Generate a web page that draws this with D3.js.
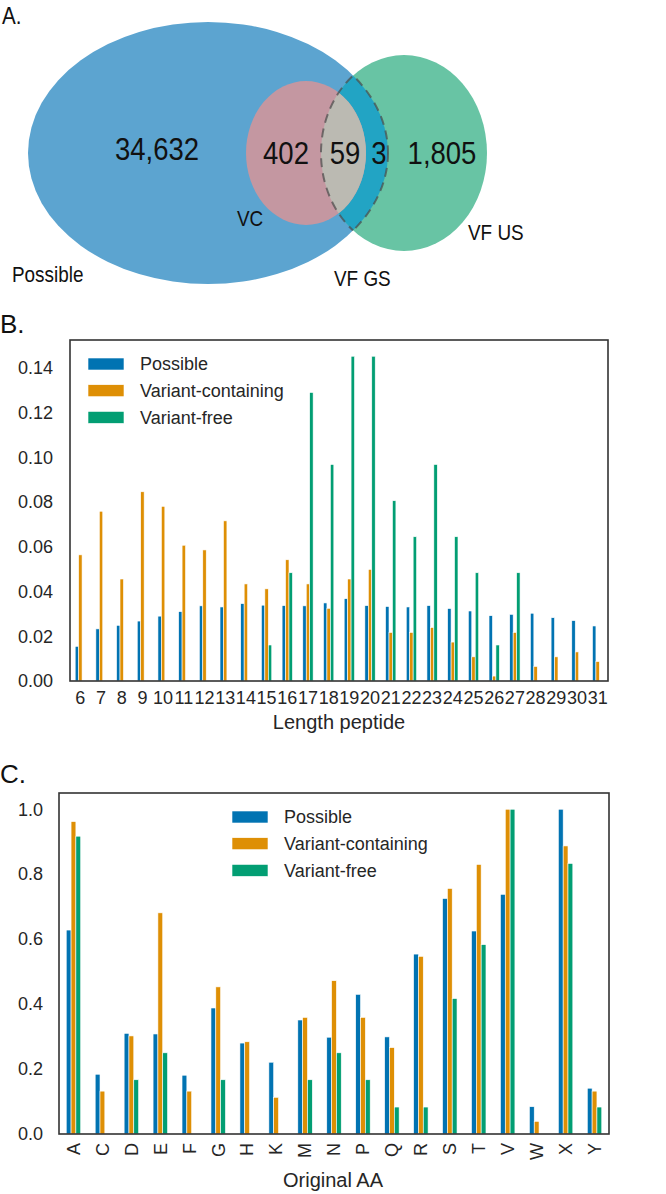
<!DOCTYPE html>
<html><head><meta charset="utf-8">
<script src="https://cdn.jsdelivr.net/npm/d3@7"></script>
<style>
html,body{margin:0;padding:0;background:#fff;}
svg{display:block;font-family:"Liberation Sans",Arial,sans-serif;}
</style></head>
<body>
<svg id="c" width="666" height="1194"></svg>
<script>
// ---------- DATA ----------
const vennSetLabels = ["Possible", "VC", "VF GS", "VF US"];
const vennCounts = [34632, 402, 59, 3, 1805];

const seriesNames = ["Possible", "Variant-containing", "Variant-free"];

const lengthCats = ["6","7","8","9","10","11","12","13","14","15","16","17","18","19","20","21","22","23","24","25","26","27","28","29","30","31"];
const possibleLen = [0.0155,0.0233,0.0249,0.0268,0.0290,0.0310,0.0336,0.0331,0.0346,0.0339,0.0337,0.0336,0.0349,0.0368,0.0337,0.0333,0.0331,0.0337,0.0324,0.0313,0.0292,0.0298,0.0303,0.0283,0.0270,0.0246];
const vcLen = [0.0564,0.0759,0.0456,0.0846,0.0781,0.0607,0.0586,0.0716,0.0434,0.0412,0.0542,0.0434,0.0325,0.0456,0.0499,0.0217,0.0217,0.0239,0.0174,0.0108,0.0022,0.0217,0.0065,0.0108,0.0130,0.0087];
const vfLen = [0,0,0,0,0,0,0,0,0,0.0161,0.0484,0.1290,0.0968,0.1452,0.1452,0.0806,0.0645,0.0968,0.0645,0.0484,0.0161,0.0484,0,0,0,0];
const lenTicks = [0,0.02,0.04,0.06,0.08,0.10,0.12,0.14];

const aaCats = ["A","C","D","E","F","G","H","K","M","N","P","Q","R","S","T","V","W","X","Y"];
const possibleAA = [0.628,0.184,0.310,0.308,0.181,0.388,0.280,0.221,0.351,0.298,0.430,0.299,0.554,0.725,0.625,0.738,0.084,1.0,0.141];
const vcAA = [0.962,0.132,0.302,0.681,0.132,0.453,0.284,0.113,0.359,0.472,0.359,0.266,0.547,0.756,0.830,1.0,0.039,0.887,0.132];
const vfAA = [0.917,0,0.167,0.250,0,0.167,0,0,0.167,0.250,0.167,0.083,0.083,0.417,0.583,1.0,0,0.833,0.083];
const aaTicks = [0,0.2,0.4,0.6,0.8,1.0];

// ---------- STYLE ----------
const barColors = ["#0173B2","#DE8F05","#029E73"];
const svg = d3.select("#c");
const fmtCount = d3.format(",");

// ---------- PANEL A: VENN ----------
(function(){
  const gA = svg.append("g");
  const shapes = {
    possible:{cx:208, cy:153, rx:180, ry:131},
    vfus:{cx:404, cy:153, rx:83, ry:98},
    vc:{cx:306, cy:153, rx:60, ry:72}
  };
  const defs = svg.append("defs");
  defs.append("clipPath").attr("id","clipBlue").append("ellipse").attr("cx",shapes.possible.cx).attr("cy",shapes.possible.cy).attr("rx",shapes.possible.rx).attr("ry",shapes.possible.ry);
  defs.append("clipPath").attr("id","clipGreen").append("ellipse").attr("cx",shapes.vfus.cx).attr("cy",shapes.vfus.cy).attr("rx",shapes.vfus.rx).attr("ry",shapes.vfus.ry);
  const ell = (s) => gA.append("ellipse").attr("cx",s.cx).attr("cy",s.cy).attr("rx",s.rx).attr("ry",s.ry);
  ell(shapes.possible).attr("fill","#5CA4D0");
  ell(shapes.vfus).attr("fill","#68C4A4");
  ell(shapes.vfus).attr("fill","#22A4C4").attr("clip-path","url(#clipBlue)");
  ell(shapes.vc).attr("fill","#C497A1");
  ell(shapes.vc).attr("fill","#BBBAB2").attr("clip-path","url(#clipGreen)");
  // dashed lens outline (VF GS)
  ell(shapes.vfus).attr("fill","none").attr("stroke","#4a4a4a").attr("stroke-opacity",0.7).attr("stroke-width",2).attr("stroke-dasharray","9,6").attr("clip-path","url(#clipBlue)");
  ell(shapes.possible).attr("fill","none").attr("stroke","#4a4a4a").attr("stroke-opacity",0.7).attr("stroke-width",2).attr("stroke-dasharray","9,6").attr("clip-path","url(#clipGreen)");

  const sx = 0.86;
  const txt = (x,y,t,size,anchor) => gA.append("text")
    .attr("transform",`translate(${x},${y}) scale(${sx},1)`)
    .attr("text-anchor",anchor||"middle").attr("font-size",size).attr("fill","#111").text(t);
  // counts
  txt(157,160,fmtCount(vennCounts[0]),32);
  txt(286,164,fmtCount(vennCounts[1]),32);
  txt(345,164,fmtCount(vennCounts[2]),32);
  txt(379,164,fmtCount(vennCounts[3]),32);
  txt(442,164,fmtCount(vennCounts[4]),32);
  // set labels
  txt(12,282,vennSetLabels[0],22,"start");
  txt(237,226,vennSetLabels[1],22,"start");
  txt(334,286,vennSetLabels[2],22,"start");
  txt(468,240,vennSetLabels[3],22,"start");
  txt(2,24,"A.",24,"start");
})();

// ---------- grouped bar panel ----------
function barPanel(o){
  const g = svg.append("g");
  const x = d3.scaleBand().domain(o.cats).range([o.x0,o.x1]).paddingInner(0).paddingOuter(0);
  const y = d3.scaleLinear().domain([0,o.ymax]).range([o.y1,o.y0]);
  const bw = x.bandwidth()*0.5/3;
  o.series.forEach((vals,si)=>{
    g.append("g").selectAll("rect").data(vals).join("rect")
      .attr("x",(d,i)=>x(o.cats[i])+x.bandwidth()/2+(si-1)*bw-bw/2)
      .attr("y",d=>y(d))
      .attr("width",bw)
      .attr("height",d=>o.y1-y(d))
      .attr("fill",barColors[si])
      .attr("stroke","#fff").attr("stroke-width",0.6);
  });
  // frame
  g.append("rect").attr("x",o.x0).attr("y",o.y0).attr("width",o.x1-o.x0).attr("height",o.y1-o.y0)
    .attr("fill","none").attr("stroke","#333").attr("stroke-width",1.6);
  // y axis
  const ya = g.append("g").attr("transform",`translate(${o.x0},0)`)
    .call(d3.axisLeft(y).tickValues(o.ticks).tickFormat(d3.format(o.fmt)).tickSize(0).tickPadding(o.ypad));
  ya.select(".domain").remove();
  ya.selectAll("text").attr("font-size",18).attr("fill","#262626").attr("font-family","Liberation Sans, Arial, sans-serif");
  // x axis
  const xa = g.append("g").attr("transform",`translate(0,${o.y1})`)
    .call(d3.axisBottom(x).tickSize(0).tickPadding(10));
  xa.select(".domain").remove();
  xa.selectAll("text").attr("font-size",18).attr("fill","#262626").attr("font-family","Liberation Sans, Arial, sans-serif");
  if(o.rotate){
    xa.selectAll("text").attr("transform","rotate(-90)").attr("text-anchor","end")
      .attr("x",-9).attr("y",0).attr("dy","0.35em");
  }
  // x label
  g.append("text").attr("x",o.labelX).attr("y",o.labelY).attr("text-anchor","middle")
    .attr("font-size",20).attr("fill","#262626").text(o.xlabel);
  // legend
  seriesNames.forEach((n,i)=>{
    g.append("rect").attr("x",o.legX).attr("y",o.legY+i*26.7-6).attr("width",36).attr("height",12)
      .attr("fill",barColors[i]).attr("stroke","#fff").attr("stroke-width",0.6);
    g.append("text").attr("x",o.legX+52).attr("y",o.legY+i*26.7).attr("dy","0.35em")
      .attr("font-size",18).attr("fill","#262626").text(n);
  });
  g.append("text").attr("x",o.panelX).attr("y",o.panelY).attr("font-size",26).attr("fill","#111").text(o.panel);
}

barPanel({
  cats:lengthCats, series:[possibleLen,vcLen,vfLen],
  x0:70, x1:608, y0:340, y1:681, ymax:0.1452*1.05,
  ticks:lenTicks, fmt:".2f", ypad:17,
  xlabel:"Length peptide", labelX:339, labelY:729,
  legX:88, legY:364, panel:"B.", panelX:0, panelY:333, rotate:false
});

barPanel({
  cats:aaCats, series:[possibleAA,vcAA,vfAA],
  x0:59, x1:609, y0:793, y1:1134, ymax:1.05,
  ticks:aaTicks, fmt:".1f", ypad:16,
  xlabel:"Original AA", labelX:333, labelY:1187,
  legX:232, legY:817, panel:"C.", panelX:0, panelY:783, rotate:true
});
</script>
</body></html>
